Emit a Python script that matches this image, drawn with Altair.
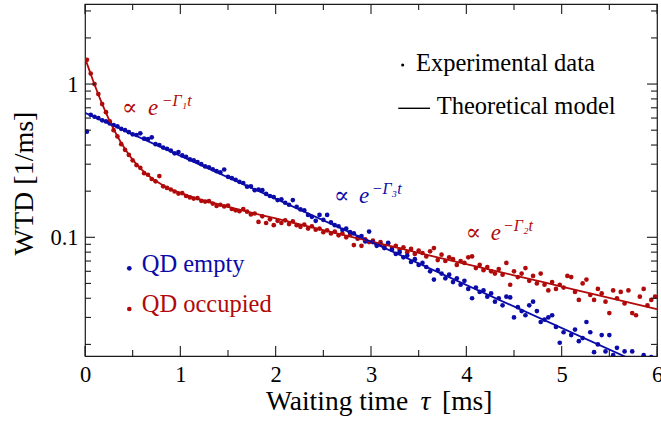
import altair as alt
import pandas as pd

# ---------------- data ----------------
t = [0.02, 0.06, 0.10, 0.14, 0.18, 0.22, 0.26, 0.30, 0.34, 0.38,
     0.42, 0.46, 0.50, 0.54, 0.58, 0.62, 0.66, 0.70, 0.74, 0.78,
     0.82, 0.86, 0.90, 0.94, 0.98, 1.02, 1.06, 1.10, 1.14, 1.18,
     1.22, 1.26, 1.30, 1.34, 1.38, 1.42, 1.46, 1.50, 1.54, 1.58,
     1.62, 1.66, 1.70, 1.74, 1.78, 1.82, 1.86, 1.90, 1.94, 1.98,
     2.02, 2.06, 2.10, 2.14, 2.18, 2.22, 2.26, 2.30, 2.34, 2.38,
     2.42, 2.46, 2.50, 2.54, 2.58, 2.62, 2.66, 2.70, 2.74, 2.78,
     2.82, 2.86, 2.90, 2.94, 2.98, 3.02, 3.06, 3.10, 3.14, 3.18,
     3.22, 3.26, 3.30, 3.34, 3.38, 3.42, 3.46, 3.50, 3.54, 3.58,
     3.62, 3.66, 3.70, 3.74, 3.78, 3.82, 3.86, 3.90, 3.94, 3.98,
     4.02, 4.06, 4.10, 4.14, 4.18, 4.22, 4.26, 4.30, 4.34, 4.38,
     4.42, 4.46, 4.50, 4.54, 4.58, 4.62, 4.66, 4.70, 4.74, 4.78,
     4.82, 4.86, 4.90, 4.94, 4.98, 5.02, 5.06, 5.10, 5.14, 5.18,
     5.22, 5.26, 5.30, 5.34, 5.38, 5.42, 5.46, 5.50, 5.54, 5.58,
     5.62, 5.66, 5.70, 5.74, 5.78, 5.82, 5.86, 5.90, 5.94, 5.98]

occupied = [1.44, 1.17, 1.00, 0.86, 0.74, 0.655, 0.57, 0.50, 0.455, 0.405,
            0.372, 0.345, 0.318, 0.296, 0.284, 0.262, 0.256, 0.240, 0.232, 0.251,
            0.215, 0.210, 0.205, 0.199, 0.193, 0.194, 0.186, 0.182, 0.179, 0.180,
            0.173, 0.171, 0.172, 0.166, 0.160, 0.163, 0.159, 0.161, 0.153, 0.150,
            0.148, 0.153, 0.147, 0.141, 0.143, 0.126, 0.137, 0.124, 0.131, 0.120,
            0.128, 0.124, 0.129, 0.122, 0.127, 0.120, 0.117, 0.121, 0.114, 0.118,
            0.112, 0.114, 0.108, 0.111, 0.106, 0.109, 0.103, 0.106, 0.100, 0.104,
            0.089, 0.098, 0.088, 0.097, 0.093, 0.095, 0.090, 0.093, 0.087, 0.091,
            0.085, 0.088, 0.083, 0.086, 0.080, 0.084, 0.078, 0.082, 0.079, 0.075,
            0.081, 0.085, 0.071, 0.077, 0.070, 0.074, 0.072, 0.066, 0.070, 0.068,
            0.074, 0.075, 0.063, 0.066, 0.061, 0.064, 0.060, 0.058, 0.062, 0.057,
            0.068, 0.049, 0.060, 0.055, 0.058, 0.063, 0.052, 0.056, 0.050, 0.058,
            0.049, 0.045, 0.051, 0.046, 0.049, 0.047, 0.056, 0.055, 0.044, 0.039,
            0.050, 0.053, 0.042, 0.039, 0.046, 0.043, 0.038, 0.032, 0.045, 0.040,
            0.044, 0.037, 0.045, 0.032, 0.031, 0.041, 0.046, 0.036, 0.039, 0.041]

empty = [0.489, 0.630, 0.612, 0.600, 0.580, 0.570, 0.553, 0.540, 0.530, 0.510,
         0.500, 0.485, 0.470, 0.465, 0.477, 0.440, 0.437, 0.449, 0.405, 0.400,
         0.385, 0.378, 0.368, 0.353, 0.360, 0.342, 0.335, 0.322, 0.318, 0.310,
         0.300, 0.290, 0.286, 0.278, 0.270, 0.265, 0.277, 0.248, 0.243, 0.237,
         0.230, 0.226, 0.214, 0.215, 0.203, 0.205, 0.203, 0.192, 0.186, 0.183,
         0.175, 0.177, 0.168, 0.163, 0.175, 0.158, 0.152, 0.150, 0.140, 0.136,
         0.128, 0.140, 0.130, 0.140, 0.125, 0.120, 0.118, 0.112, 0.114, 0.108,
         0.106, 0.100, 0.102, 0.094, 0.109, 0.093, 0.088, 0.090, 0.085, 0.092,
         0.083, 0.078, 0.080, 0.074, 0.076, 0.069, 0.072, 0.066, 0.068, 0.064,
         0.060, 0.053, 0.061, 0.058, 0.054, 0.057, 0.051, 0.054, 0.049, 0.052,
         0.046, 0.040, 0.047, 0.044, 0.045, 0.041, 0.043, 0.038, 0.040, 0.036,
         0.041, 0.0405, 0.030, 0.035, 0.033, 0.031, 0.036, 0.038, 0.033, 0.028,
         0.029, 0.030, 0.031, 0.026, 0.0205, 0.024, 0.016, 0.023, 0.025, 0.021,
         0.022, 0.028, 0.024, 0.0178, 0.020, 0.023, 0.018, 0.023, 0.017, 0.019,
         0.016, 0.018, 0.015, 0.018, 0.014, 0.015, 0.017, 0.013, 0.0165, 0.012]

model_occ_t = [0, 0.05, 0.1, 0.15, 0.2, 0.25, 0.3, 0.35, 0.4, 0.45, 0.5, 0.6, 0.7,
               0.8, 0.9, 1.0, 1.2, 1.4, 1.7, 2.0, 2.5, 3.0, 3.5, 4.0, 4.5, 5.0, 5.5, 6.0]
model_occ_v = [1.48, 1.21, 0.993, 0.825, 0.694, 0.590, 0.509, 0.445, 0.394, 0.354, 0.321,
               0.274, 0.243, 0.222, 0.206, 0.195, 0.177, 0.164, 0.147, 0.1327, 0.1113,
               0.0939, 0.0792, 0.0668, 0.0565, 0.0477, 0.0403, 0.0340]
model_emp_t = [0, 6]
model_emp_v = [0.650, 0.0134]

x_major = [0, 1, 2, 3, 4, 5, 6]
x_minor = [0.5, 1.5, 2.5, 3.5, 4.5, 5.5]
y_major = [0.1, 1]
y_minor = [0.02, 0.03, 0.04, 0.05, 0.06, 0.07, 0.08, 0.09,
           0.2, 0.3, 0.4, 0.5, 0.6, 0.7, 0.8, 0.9, 2, 3]

# ---------------- styling ----------------
FONT = "Liberation Serif, Times New Roman, serif"
SYM = "DejaVu Serif, serif"
BLUE = "#0B0BA8"
RED = "#B00A0A"
INK = "#1a1a1a"
W, H = 572, 352
MAJ, MIN = 10, 6

pts_occ = pd.DataFrame({"t": t, "v": occupied})
pts_emp = pd.DataFrame({"t": t, "v": empty})
line_occ = pd.DataFrame({"t": model_occ_t, "v": model_occ_v})
line_emp = pd.DataFrame({"t": model_emp_t, "v": model_emp_v})

xs = alt.Scale(domain=[0, 6], nice=False, zero=False)
ys = alt.Scale(type="log", domain=[0.0168, 3.33], nice=False)

main_x = alt.Axis(orient="bottom", values=x_major, ticks=False, tickSize=0,
                  domain=False, grid=False, labelFont=FONT, labelFontSize=22.5,
                  labelPadding=7, labelColor="black", labelFlush=False,
                  labelOverlap=False, title=None)
main_y = alt.Axis(orient="left", values=y_major, format="~g", ticks=False,
                  tickSize=0, domain=False, grid=False, labelFont=FONT,
                  labelFontSize=22.5, labelPadding=7, labelColor="black",
                  labelOverlap=False, title="WTD [1/ms]", titleFont=FONT,
                  titleFontSize=28, titleFontWeight="normal", titleColor="black",
                  titleAngle=270, titleX=-52.5, titleY=179,
                  titleBaseline="alphabetic", titleAlign="center")

occ_points = alt.Chart(pts_occ).mark_circle(size=22, opacity=1, color=RED, clip=True).encode(
    x=alt.X("t:Q", scale=xs, axis=main_x),
    y=alt.Y("v:Q", scale=ys, axis=main_y),
)
emp_points = alt.Chart(pts_emp).mark_circle(size=22, opacity=1, color=BLUE, clip=True).encode(
    x=alt.X("t:Q", scale=xs, axis=None),
    y=alt.Y("v:Q", scale=ys, axis=None),
)
occ_line = alt.Chart(line_occ).mark_line(color=RED, strokeWidth=1.8, clip=True,
                                         interpolate="monotone").encode(
    x=alt.X("t:Q", scale=xs, axis=None),
    y=alt.Y("v:Q", scale=ys, axis=None),
)
emp_line = alt.Chart(line_emp).mark_line(color=BLUE, strokeWidth=1.8, clip=True).encode(
    x=alt.X("t:Q", scale=xs, axis=None),
    y=alt.Y("v:Q", scale=ys, axis=None),
)


# inward ticks on all four sides, placed through the scales
def xticks(values, y0, y1):
    return alt.Chart(pd.DataFrame({"v": values})).mark_rule(
        color=INK, strokeWidth=1.1).encode(
        x=alt.X("v:Q", scale=xs, axis=None), y=alt.value(y0), y2=alt.value(y1))


def yticks(values, x0, x1):
    return alt.Chart(pd.DataFrame({"v": values})).mark_rule(
        color=INK, strokeWidth=1.1).encode(
        y=alt.Y("v:Q", scale=ys, axis=None), x=alt.value(x0), x2=alt.value(x1))


ticks = [
    xticks(x_major, H, H - MAJ), xticks(x_minor, H, H - MIN),
    xticks(x_major, 0, MAJ), xticks(x_minor, 0, MIN),
    yticks(y_major, 0, MAJ), yticks(y_minor, 0, MIN),
    yticks(y_major, W, W - MAJ), yticks(y_minor, W, W - MIN),
]


def label(s, x, y, size, color, font=FONT, style="normal"):
    return alt.Chart(pd.DataFrame({"s": [s]})).mark_text(
        text=s, font=font, fontSize=size, color=color, fontStyle=style,
        align="left", baseline="alphabetic").encode(
        x=alt.value(x), y=alt.value(y))


def dot(x, y, color, size):
    return alt.Chart(pd.DataFrame({"s": [0]})).mark_circle(
        size=size, color=color, opacity=1).encode(x=alt.value(x), y=alt.value(y))


legend_line = alt.Chart(pd.DataFrame({"s": [0]})).mark_rule(
    color="black", strokeWidth=1.4).encode(
    x=alt.value(313.3), x2=alt.value(345), y=alt.value(104.3))

overlays = [
    # x-axis title (τ set in italic as in the reference)
    label("Waiting time", 181, 406, 27.5, "black"),
    label("τ", 335.5, 406, 27.5, "black", style="italic"),
    label("[ms]", 357, 406, 27.5, "black"),
    # legends
    dot(317.7, 61, "black", 10),
    label("Experimental data", 331, 66.7, 24.5, "black"),
    legend_line,
    label("Theoretical model", 351.7, 110, 24.5, "black"),
    dot(44.3, 264.3, BLUE, 22),
    label("QD empty", 56.7, 267.7, 24.5, BLUE),
    dot(44.3, 305, RED, 22),
    label("QD occupied", 56.7, 307.5, 24.5, RED),
    # annotations
    label("∝", 37, 111, 23, RED, font=SYM),
    label("e", 63, 110.5, 23, RED, style="italic"),
    label("−Γ₁t", 76.7, 102, 16, RED, style="italic"),
    label("∝", 249, 199, 23, BLUE, font=SYM),
    label("e", 274, 198.5, 23, BLUE, style="italic"),
    label("−Γ₃t", 286.7, 190, 16, BLUE, style="italic"),
    label("∝", 380.7, 236, 23, RED, font=SYM),
    label("e", 405.7, 235.5, 23, RED, style="italic"),
    label("−Γ₂t", 418, 227, 16, RED, style="italic"),
]

chart = alt.layer(
    occ_points, emp_points, occ_line, emp_line, *ticks, *overlays
).resolve_axis(
    x="independent", y="independent"
).properties(
    width=W, height=H,
    autosize=alt.AutoSizeParams(type="none"),
    padding={"left": 85, "top": 4, "right": 4, "bottom": 81},
    background="white",
).configure(
    font=FONT
).configure_view(
    stroke=INK, strokeWidth=1.2
)

chart.save("out.html", embed_options={"renderer": "svg", "actions": False})
